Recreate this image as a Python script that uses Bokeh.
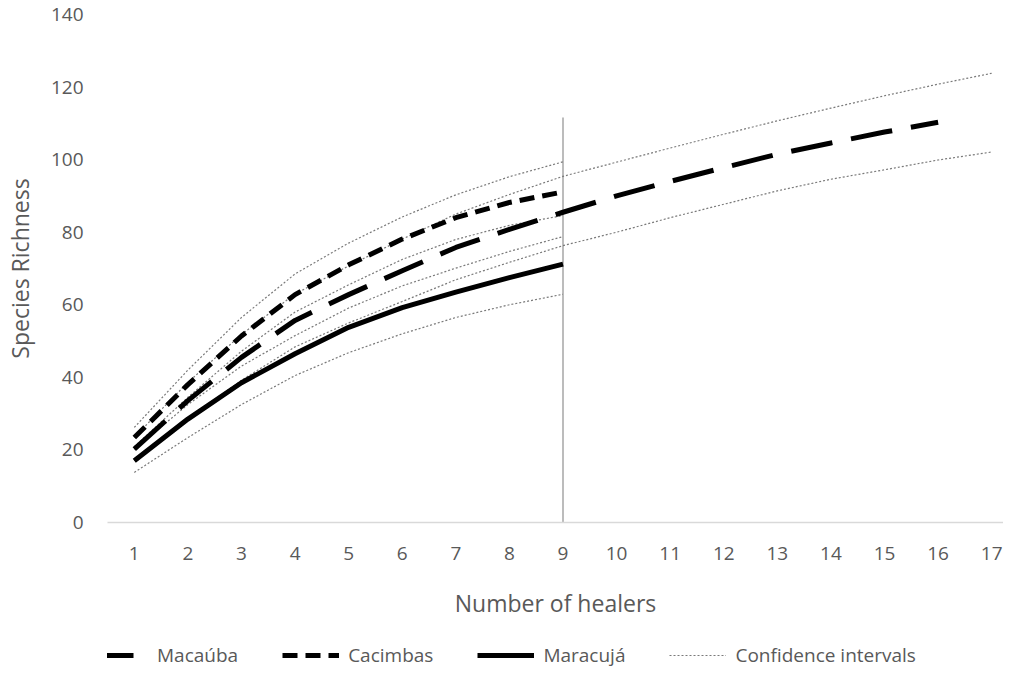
from bokeh.plotting import figure
from bokeh.models import Legend, LegendItem, FixedTicker, Range1d
from bokeh.layouts import column
from bokeh.embed import file_html
from bokeh.resources import INLINE

# ---- data ----
healers = list(range(1, 18))
healers_9 = healers[:9]
healers_16 = healers[:16]

macauba_mean = [20.2, 33.6, 45.5, 55.7, 62.8, 69.4, 75.8, 80.8, 85.5,
                90.0, 94.0, 97.8, 101.5, 104.6, 107.6, 110.3]
macauba_upper = [23.5, 38.6, 51.8, 63.0, 70.7, 78.1, 85.0, 90.4, 95.4,
                 99.3, 103.2, 107.0, 110.7, 114.2, 117.6, 120.8, 123.8]
macauba_lower = [17.0, 28.6, 39.2, 48.4, 55.0, 60.9, 66.9, 71.7, 76.3,
                 80.0, 84.0, 87.7, 91.4, 94.6, 97.2, 99.9, 102.1]

cacimbas_mean = [23.4, 38.0, 51.4, 62.8, 71.0, 78.1, 84.0, 88.2, 91.1]
cacimbas_upper = [26.2, 42.0, 56.5, 68.5, 77.0, 84.2, 90.3, 95.3, 99.4]
cacimbas_lower = [20.9, 34.5, 47.2, 58.0, 65.5, 72.5, 78.0, 81.9, 84.6]

maracuja_mean = [17.0, 28.5, 38.5, 46.5, 53.8, 59.2, 63.5, 67.5, 71.2]
maracuja_upper = [20.2, 32.5, 43.1, 51.5, 59.1, 65.2, 70.1, 74.7, 78.8]
maracuja_lower = [13.8, 23.4, 32.5, 40.5, 46.8, 52.0, 56.5, 60.0, 62.9]

marker_x = [9]
marker_y0 = [0]
marker_y1 = [111.6]

y_ticks = [0, 20, 40, 60, 80, 100, 120, 140]

series_names = ["Macaúba", "Cacimbas", "Maracujá", "Confidence intervals"]

FONT = "Open Sans"
TXT = "#595959"

MAC_STYLE = dict(line_color="black", line_width=5, line_dash="42 19")
CAC_STYLE = dict(line_color="black", line_width=5, line_dash="15 8")
MAR_STYLE = dict(line_color="black", line_width=5)
CI_STYLE = dict(line_color="#7a7a7a", line_width=1.2, line_dash="2 2")

p = figure(width=1003, height=632, output_backend="svg", toolbar_location=None,
           x_range=Range1d(0.5, 17.22), y_range=Range1d(0, 140),
           min_border_top=14, min_border_right=0, min_border_left=96,
           min_border_bottom=110)
p.outline_line_color = None
p.xgrid.grid_line_color = None
p.ygrid.grid_line_color = None
p.background_fill_color = "white"
p.border_fill_color = "white"

# vertical reference line at 9 healers
p.segment(x0=marker_x, y0=marker_y0, x1=marker_x, y1=marker_y1,
          line_color="#a6a6a6", line_width=1.5)

p.line(healers, macauba_upper, **CI_STYLE)
p.line(healers, macauba_lower, **CI_STYLE)
p.line(healers_9, cacimbas_upper, **CI_STYLE)
p.line(healers_9, cacimbas_lower, **CI_STYLE)
p.line(healers_9, maracuja_upper, **CI_STYLE)
p.line(healers_9, maracuja_lower, **CI_STYLE)

p.line(healers_9, maracuja_mean, **MAR_STYLE)
p.line(healers_16, macauba_mean, **MAC_STYLE)
p.line(healers_9, cacimbas_mean, **CAC_STYLE)

# axes
p.xaxis.ticker = FixedTicker(ticks=healers)
p.yaxis.ticker = FixedTicker(ticks=y_ticks)
for ax in (p.xaxis[0], p.yaxis[0]):
    ax.major_tick_line_color = None
    ax.minor_tick_line_color = None
    ax.major_label_text_font = FONT
    ax.major_label_text_font_size = "19px"
    ax.major_label_text_color = TXT
    ax.axis_label_text_font = FONT
    ax.axis_label_text_font_size = "23px"
    ax.axis_label_text_font_style = "normal"
    ax.axis_label_text_color = TXT
p.xaxis.axis_line_color = "#d9d9d9"
p.xaxis.axis_line_width = 1.5
p.yaxis.axis_line_color = None
p.xaxis.axis_label = "Number of healers"
p.yaxis.axis_label = "Species Richness"
p.xaxis.major_label_standoff = 18
p.xaxis.axis_label_standoff = 24
p.yaxis.major_label_standoff = 18
p.yaxis.axis_label_standoff = 12

# legend strip below the chart (its sample lines lie outside the strip's view)
lg = figure(width=1003, height=36, output_backend="svg", toolbar_location=None,
            x_range=Range1d(0, 1), y_range=Range1d(0, 1),
            x_axis_location=None, y_axis_location=None,
            min_border_left=0, min_border_right=0,
            min_border_top=0, min_border_bottom=0)
lg.outline_line_color = None
lg.xgrid.grid_line_color = None
lg.ygrid.grid_line_color = None
off_x = [5, 6]
off_y = [5, 5]
lr_mac = lg.line(off_x, off_y, **MAC_STYLE)
lr_cac = lg.line(off_x, off_y, **CAC_STYLE)
lr_mar = lg.line(off_x, off_y, **MAR_STYLE)
lr_ci = lg.line(off_x, off_y, **CI_STYLE)

legend = Legend(items=[
    LegendItem(label=series_names[0], renderers=[lr_mac]),
    LegendItem(label=series_names[1], renderers=[lr_cac]),
    LegendItem(label=series_names[2], renderers=[lr_mar]),
    LegendItem(label=series_names[3], renderers=[lr_ci]),
], orientation="horizontal", location=(-16, 0))
legend.label_text_font = FONT
legend.label_text_font_size = "19px"
legend.label_text_color = TXT
legend.glyph_width = 57
legend.label_standoff = 9
legend.spacing = 44
legend.padding = 0
legend.margin = 0
legend.border_line_color = None
legend.background_fill_alpha = 0
lg.add_layout(legend)

layout = column(p, lg, spacing=0)
open("out.html", "w").write(file_html(layout, INLINE))
